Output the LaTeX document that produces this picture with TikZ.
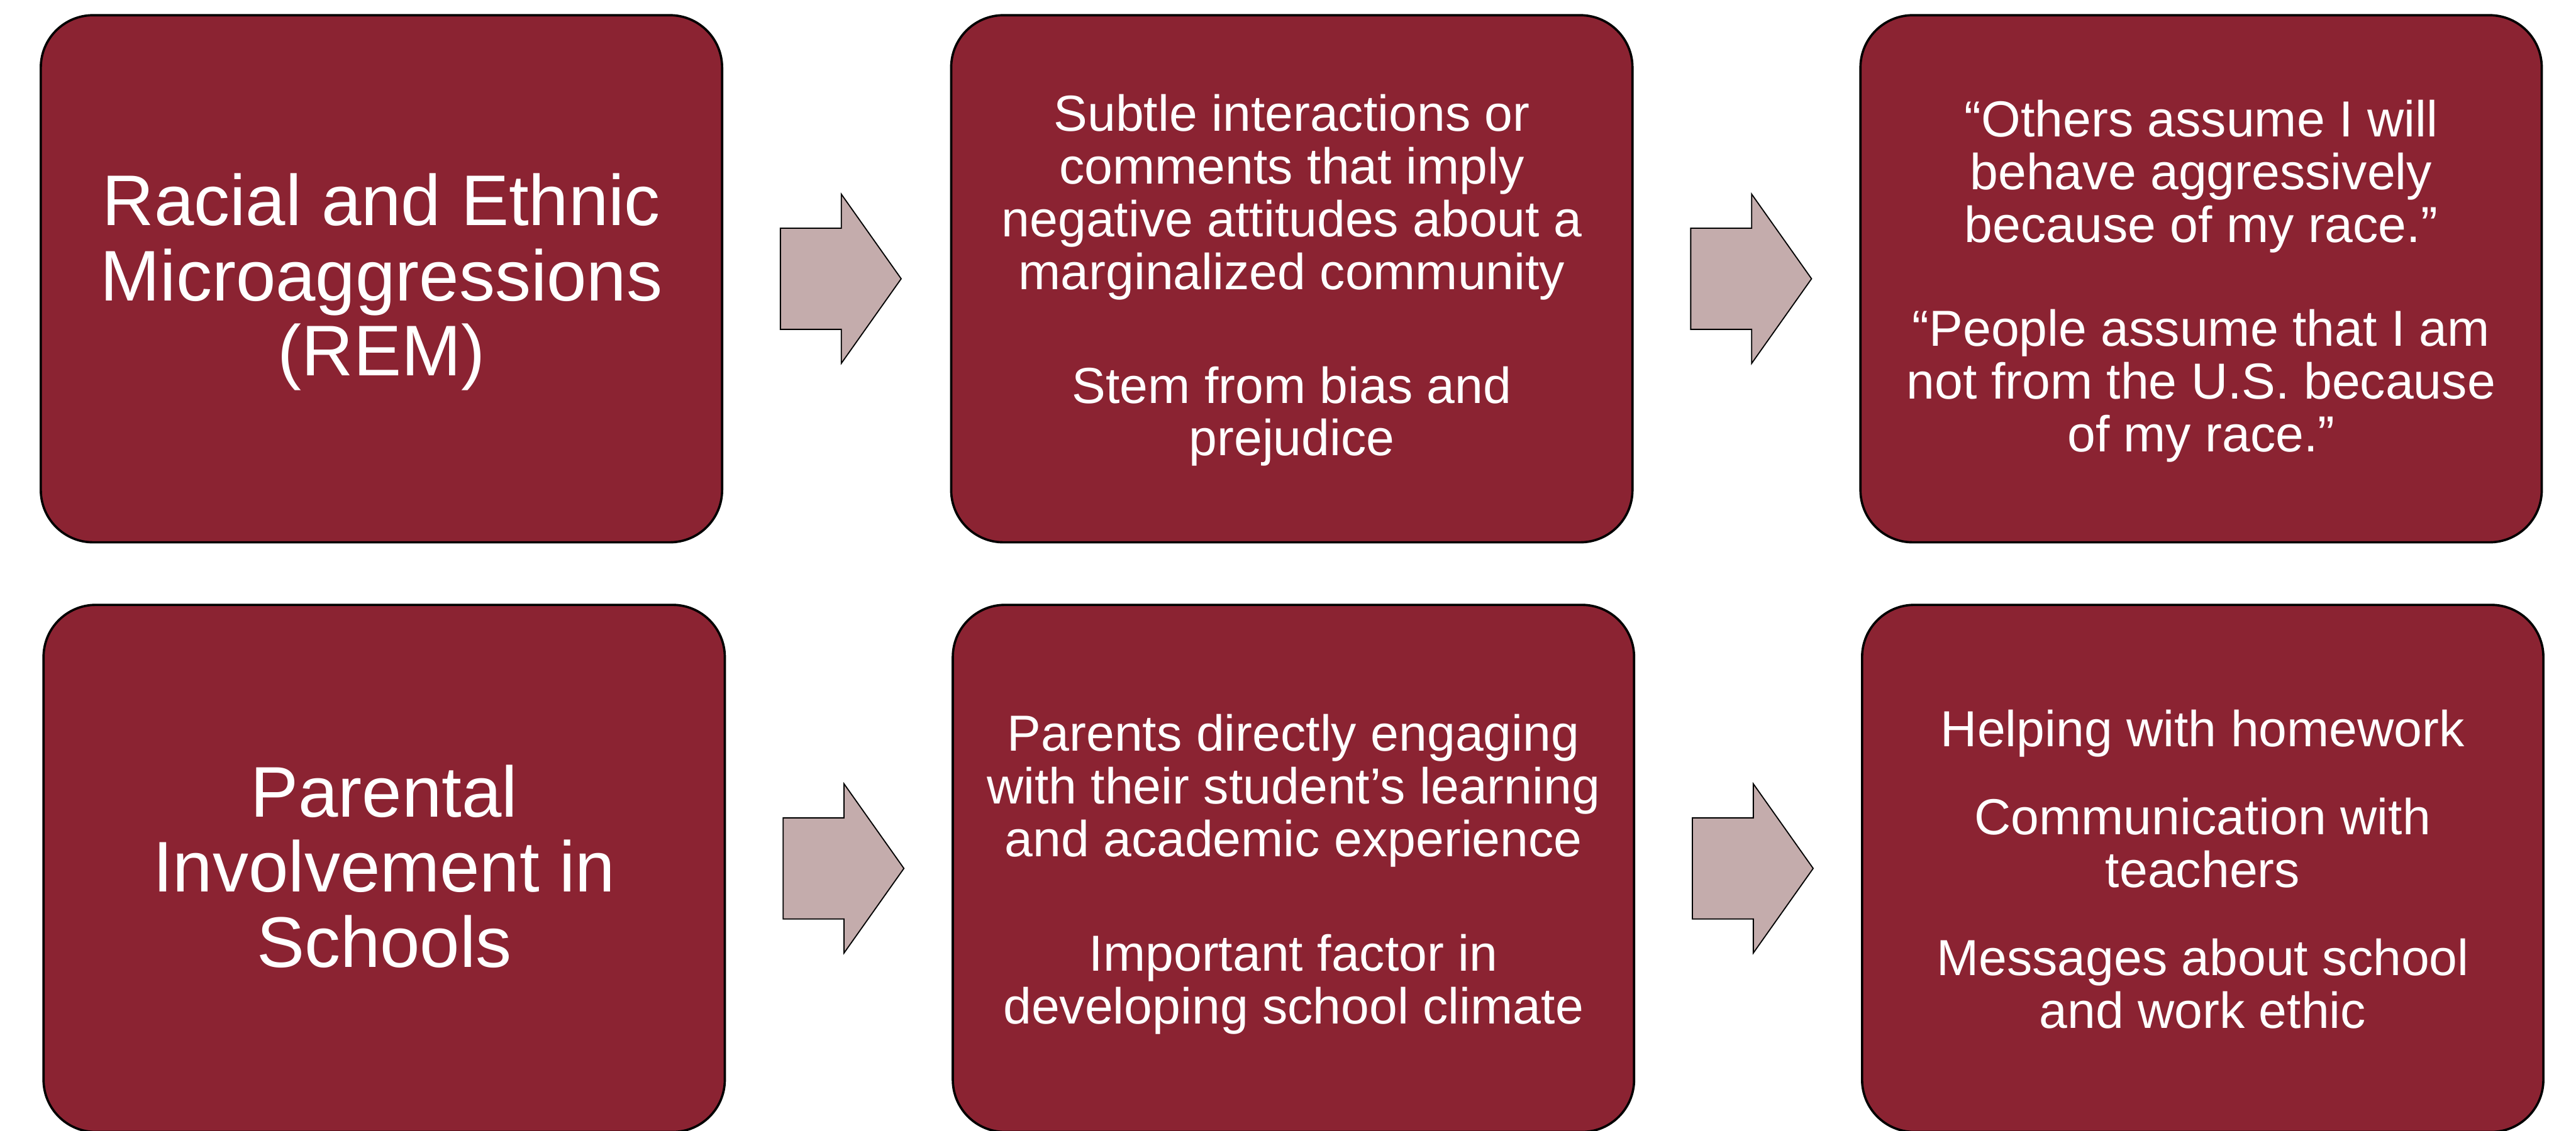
\documentclass[tikz,border=0pt]{standalone}
\usepackage{fontspec}
\setmainfont{Liberation Sans}
\usetikzlibrary{calc}
\definecolor{cardred}{HTML}{8B2332}
\definecolor{arrowrose}{HTML}{C4ACAC}
\tikzset{
  card/.style={draw=black, line width=1.2pt, fill=cardred, rounded corners=0.96cm,
    minimum width=12.52cm, minimum height=9.69cm, inner sep=0pt},
  headtext/.style={text=white, align=center, inner sep=0pt,
    font=\fontsize{37.5}{39.3}\selectfont},
  bodytext/.style={text=white, align=center, inner sep=0pt,
    font=\fontsize{26.5}{27.6}\selectfont},
  blockarrow/.style={draw=black, line width=0.6pt, fill=arrowrose, line join=miter},
}
% block arrow pointing right, starting a little to the right of a card
\newcommand{\flowarrow}[1]{%
  \draw[blockarrow] ($(#1.east)+(1.05,0)$) ++(0,0.93) -- ++(1.12,0) -- ++(0,0.625)
    -- ++(1.10,-1.555) -- ++(-1.10,-1.555) -- ++(0,0.625) -- ++(-1.12,0) -- cycle;}
\begin{document}
\begin{tikzpicture}
\useasboundingbox (0,0) rectangle (47.34,20.79);

% first row: microaggressions
\node[card] (rem) at (7.01,15.665) {};
\node[headtext] (remtext) at (7.01,15.54)
  {\strut Racial and Ethnic\\Microaggressions\\(REM)\strut};

\node[card] (remdef) at (23.74,15.665) {};
\node[bodytext] (remdeftext) at (23.74,15.59)
  {\strut Subtle interactions or\\comments that imply\\negative attitudes about a\\marginalized community\\[1.12cm]Stem from bias and\\prejudice\strut};

\node[card] (remex) at (40.45,15.665) {};
\node[bodytext] (remextext) at (40.45,15.575)
  {\strut “Others assume I will\\behave aggressively\\because of my race.”\\[0.94cm]“People assume that I am\\not from the U.S. because\\of my race.”\strut};

% second row: parental involvement
\node[card] (pis) at (7.06,4.825) {};
\node[headtext] (pistext) at (7.06,4.67)
  {\strut Parental\\Involvement in\\Schools\strut};

\node[card] (pisdef) at (23.77,4.825) {};
\node[bodytext] (pisdeftext) at (23.77,4.67)
  {\strut Parents directly engaging\\with their student’s learning\\and academic experience\\[1.14cm]Important factor in\\developing school climate\strut};

\node[card] (pisex) at (40.48,4.825) {};
\node[bodytext] (pisextext) at (40.48,4.67)
  {\strut Helping with homework\\[0.65cm]Communication with\\teachers\\[0.65cm]Messages about school\\and work ethic\strut};

% arrows between the cards
\flowarrow{rem}
\flowarrow{remdef}
\flowarrow{pis}
\flowarrow{pisdef}
\end{tikzpicture}
\end{document}
